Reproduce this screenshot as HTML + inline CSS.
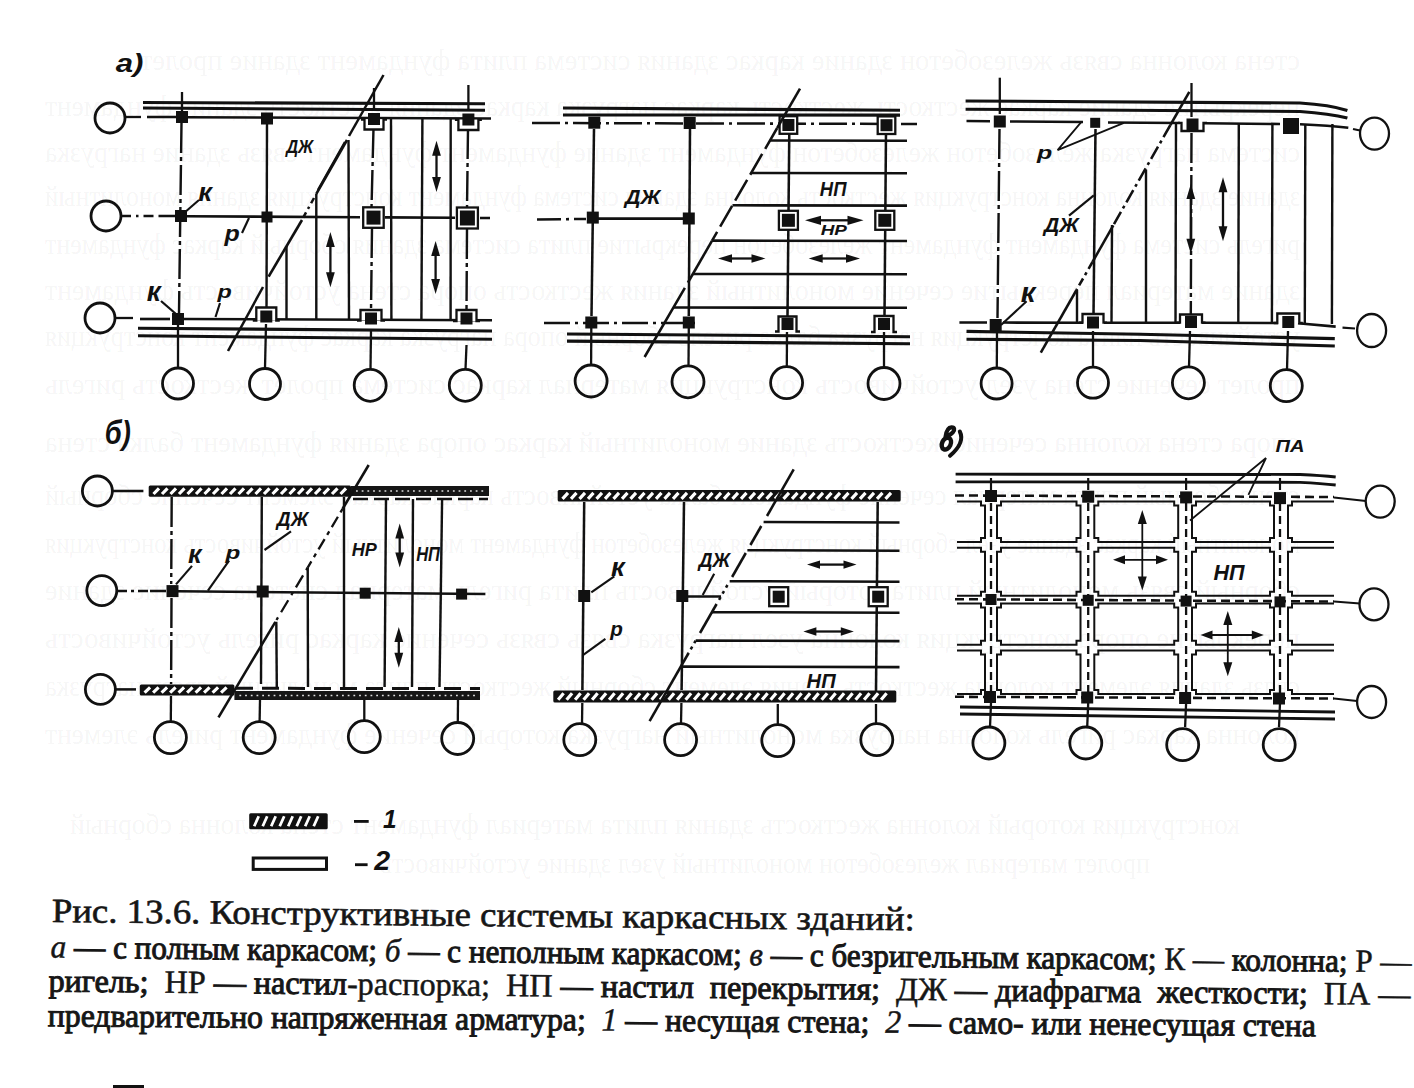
<!DOCTYPE html>
<html><head><meta charset="utf-8"><style>
html,body{margin:0;padding:0;background:#fff;}
body{width:1414px;height:1088px;overflow:hidden;position:relative;}
svg{position:absolute;left:0;top:0;}
.cs{font-family:"Liberation Serif",serif;fill:#161616;stroke:#161616;stroke-width:0.5px;white-space:pre;}
.it{font-style:italic;}
.bd{stroke-width:1.0px;}
.lb{font-family:"Liberation Sans",sans-serif;font-weight:bold;font-style:italic;fill:#111;stroke:none;}
.cap{position:absolute;font-family:"Liberation Serif",serif;color:#1a1a1a;white-space:nowrap;transform-origin:0 0;}
.l1{left:50px;top:0;font-size:34px;}
.j{text-align:justify;text-align-last:justify;white-space:normal;}
b{font-weight:bold;}
i{font-style:italic;}
</style></head><body>
<svg width="1414" height="1088" viewBox="0 0 1414 1088" stroke="#111" fill="none">
<g fill="#000" fill-opacity="0.055" stroke="none" font-family="Liberation Serif" font-size="30">
<text x="-1300" y="70" transform="scale(-1,1)" textLength="1160" lengthAdjust="spacingAndGlyphs">стена колонна связь железобетон здание каркас здания система плита фундамент здание пролет</text>
<text x="-1300" y="116" transform="scale(-1,1)" textLength="1255" lengthAdjust="spacingAndGlyphs">перекрытие здание каркас жесткость жесткость каркас нагрузка каркас здания жесткость здание фундамент</text>
<text x="-1300" y="162" transform="scale(-1,1)" textLength="1255" lengthAdjust="spacingAndGlyphs">система нагрузка железобетон железобетон фундамент здание фундамент фундамент связь здание нагрузка</text>
<text x="-1300" y="206" transform="scale(-1,1)" textLength="1255" lengthAdjust="spacingAndGlyphs">здание здания колонна конструкция жесткость колонна здания система фундамент конструкция здания монолитный</text>
<text x="-1300" y="254" transform="scale(-1,1)" textLength="1255" lengthAdjust="spacingAndGlyphs">ригель система фундамент фундамент железобетон перекрытие плита система здания сборный каркас фундамент</text>
<text x="-1300" y="300" transform="scale(-1,1)" textLength="1255" lengthAdjust="spacingAndGlyphs">здание материал перекрытие сечение монолитный здания жесткость опора стена устойчивость фундамент</text>
<text x="-1300" y="346" transform="scale(-1,1)" textLength="1255" lengthAdjust="spacingAndGlyphs">устойчивость плита конструкция нагрузка балка ригель сборный опора нагрузка каркас фундамент конструкция</text>
<text x="-1300" y="394" transform="scale(-1,1)" textLength="1255" lengthAdjust="spacingAndGlyphs">пролет сечение стена узел устойчивость конструкция материал каркас система пролет жесткость ригель</text>
<text x="-1300" y="452" transform="scale(-1,1)" textLength="1255" lengthAdjust="spacingAndGlyphs">опора стена колонна сечение жесткость здание монолитный каркас опора здания фундамент балка стена</text>
<text x="-1300" y="505" transform="scale(-1,1)" textLength="1255" lengthAdjust="spacingAndGlyphs">стена сборный плита материал сечение фундамент балка устойчивость каркас каркас элемент сечение сборный</text>
<text x="-1300" y="553" transform="scale(-1,1)" textLength="1255" lengthAdjust="spacingAndGlyphs">монолитный каркас здание узел сборный конструкция железобетон фундамент монолитный устойчивость конструкция</text>
<text x="-1300" y="600" transform="scale(-1,1)" textLength="1255" lengthAdjust="spacingAndGlyphs">сборный связь монолитный плита который устойчивость плита ригель материал система сечение здание</text>
<text x="-1300" y="648" transform="scale(-1,1)" textLength="1255" lengthAdjust="spacingAndGlyphs">перекрытие опора конструкция колонна узел нагрузка связь связь сечение каркас ригель устойчивость</text>
<text x="-1300" y="696" transform="scale(-1,1)" textLength="1255" lengthAdjust="spacingAndGlyphs">связь здания элемент колонна жесткость здания элемент сборный жесткость плита монолитный связь нагрузка</text>
<text x="-1300" y="744" transform="scale(-1,1)" textLength="1255" lengthAdjust="spacingAndGlyphs">колонна каркас ригель колонна нагрузка монолитный нагрузка который сечение фундамент ригель элемент</text>
<text x="-1240" y="834" transform="scale(-1,1)" textLength="1170" lengthAdjust="spacingAndGlyphs">конструкция который колонна жесткость здания плита материал фундамент стена колонна сборный</text>
<text x="-1150" y="873" transform="scale(-1,1)" textLength="770" lengthAdjust="spacingAndGlyphs">пролет материал железобетон монолитный узел здание устойчивость</text>
</g>
<text class="lb" font-size="26.06" transform="translate(116 52.5) scale(1.196 1)" x="-0.26" y="19.03">a)</text>
<circle cx="110.0" cy="118.0" r="15" stroke-width="2.8" fill="none"/>
<circle cx="106.0" cy="216.0" r="15" stroke-width="2.8" fill="none"/>
<circle cx="100.0" cy="318.0" r="15" stroke-width="2.8" fill="none"/>
<line x1="125.0" y1="117.0" x2="141.0" y2="117.0" stroke-width="2.3" stroke-linecap="butt"/>
<line x1="147.0" y1="117.0" x2="176.0" y2="117.0" stroke-width="2.53" stroke-linecap="butt"/>
<line x1="121.0" y1="216.0" x2="160.0" y2="216.0" stroke-width="2.3" stroke-dasharray="10 5 2.5 5" stroke-linecap="butt"/>
<line x1="160.0" y1="216.0" x2="176.0" y2="216.0" stroke-width="2.53" stroke-linecap="butt"/>
<line x1="115.0" y1="318.0" x2="133.0" y2="318.0" stroke-width="2.3" stroke-linecap="butt"/>
<line x1="140.0" y1="319.0" x2="170.0" y2="319.0" stroke-width="2.64" stroke-linecap="butt"/>
<line x1="143.0" y1="102.5" x2="485.0" y2="103.8" stroke-width="3.1" stroke-linecap="butt"/>
<line x1="143.0" y1="108.0" x2="485.0" y2="110.3" stroke-width="3.1" stroke-linecap="butt"/>
<line x1="186.0" y1="117.2" x2="491.0" y2="118.5" stroke-width="2.64" stroke-linecap="butt"/>
<line x1="186.0" y1="216.3" x2="360.0" y2="217.2" stroke-width="2.64" stroke-linecap="butt"/>
<line x1="385.0" y1="217.4" x2="455.0" y2="217.8" stroke-width="2.64" stroke-linecap="butt"/>
<line x1="480.0" y1="218.0" x2="490.0" y2="218.0" stroke-width="2.53" stroke-linecap="butt"/>
<line x1="184.0" y1="319.0" x2="492.0" y2="320.2" stroke-width="2.64" stroke-linecap="butt"/>
<line x1="138.0" y1="328.2" x2="492.0" y2="331.0" stroke-width="3.1" stroke-linecap="butt"/>
<line x1="138.0" y1="335.8" x2="492.0" y2="339.3" stroke-width="3.1" stroke-linecap="butt"/>
<line x1="182.0" y1="92.0" x2="182.0" y2="117.0" stroke-width="2.3" stroke-linecap="butt"/>
<line x1="181.5" y1="123.0" x2="179.0" y2="313.0" stroke-width="2.42" stroke-dasharray="30 4 4 4" stroke-linecap="butt"/>
<line x1="178.0" y1="325.0" x2="178.0" y2="368.0" stroke-width="2.3" stroke-linecap="butt"/>
<line x1="267.0" y1="124.0" x2="266.5" y2="310.0" stroke-width="2.42" stroke-linecap="butt"/>
<line x1="266.0" y1="324.0" x2="265.0" y2="368.0" stroke-width="2.3" stroke-linecap="butt"/>
<line x1="374.0" y1="88.0" x2="374.0" y2="110.0" stroke-width="2.3" stroke-linecap="butt"/>
<line x1="373.5" y1="128.0" x2="371.5" y2="208.0" stroke-width="2.42" stroke-dasharray="30 4 4 4" stroke-linecap="butt"/>
<line x1="372.0" y1="228.0" x2="371.0" y2="311.0" stroke-width="2.42" stroke-dasharray="30 4 4 4" stroke-linecap="butt"/>
<line x1="371.0" y1="330.0" x2="370.5" y2="369.0" stroke-width="2.3" stroke-linecap="butt"/>
<line x1="468.4" y1="85.0" x2="468.4" y2="110.0" stroke-width="2.3" stroke-linecap="butt"/>
<line x1="468.0" y1="129.0" x2="467.0" y2="208.0" stroke-width="2.42" stroke-dasharray="30 4 4 4" stroke-linecap="butt"/>
<line x1="467.0" y1="229.0" x2="466.5" y2="311.0" stroke-width="2.42" stroke-dasharray="30 4 4 4" stroke-linecap="butt"/>
<line x1="466.5" y1="345.0" x2="465.5" y2="369.0" stroke-width="2.3" stroke-linecap="butt"/>
<circle cx="178.0" cy="383.5" r="15.5" stroke-width="2.8" fill="none"/>
<circle cx="265.0" cy="384.0" r="15.5" stroke-width="2.8" fill="none"/>
<circle cx="370.2" cy="385.3" r="16" stroke-width="2.8" fill="none"/>
<circle cx="465.3" cy="385.3" r="16" stroke-width="2.8" fill="none"/>
<rect x="176.0" y="111.0" width="12" height="12" fill="#111" stroke="none"/>
<rect x="261.0" y="112.5" width="12" height="12" fill="#111" stroke="none"/>
<rect x="364.5" y="119.5" width="19.0" height="10.0" fill="#fff" stroke="none"/>
<polyline points="361.0,119.5 364.5,119.5 364.5,129.5 383.5,129.5 383.5,119.5 387.0,119.5" stroke-width="2.3" fill="none"/>
<rect x="368.0" y="113.0" width="12" height="12" fill="#111" stroke="none"/>
<rect x="458.4" y="119.8" width="20.0" height="10.2" fill="#fff" stroke="none"/>
<polyline points="454.9,119.8 458.4,119.8 458.4,130.0 478.4,130.0 478.4,119.8 481.9,119.8" stroke-width="2.3" fill="none"/>
<rect x="462.4" y="113.5" width="12" height="12" fill="#111" stroke="none"/>
<rect x="175.0" y="210.0" width="12" height="12" fill="#111" stroke="none"/>
<rect x="261.5" y="211.5" width="11" height="11" fill="#111" stroke="none"/>
<rect x="363.2" y="207.3" width="20.5" height="20.5" fill="#fff" stroke-width="2.3"/>
<rect x="366.5" y="210.6" width="14" height="14" fill="#111" stroke="none"/>
<rect x="456.9" y="207.5" width="21" height="21" fill="#fff" stroke-width="2.3"/>
<rect x="459.9" y="210.5" width="15" height="15" fill="#111" stroke="none"/>
<rect x="172.0" y="313.0" width="12" height="12" fill="#111" stroke="none"/>
<rect x="256.3" y="307.5" width="20.0" height="13.0" fill="#fff" stroke="none"/>
<polyline points="252.8,320.5 256.3,320.5 256.3,307.5 276.3,307.5 276.3,320.5 279.8,320.5" stroke-width="2.3" fill="none"/>
<rect x="260.3" y="310.5" width="12" height="12" fill="#111" stroke="none"/>
<rect x="360.5" y="310.0" width="21.0" height="10.5" fill="#fff" stroke="none"/>
<polyline points="357.0,320.5 360.5,320.5 360.5,310.0 381.5,310.0 381.5,320.5 385.0,320.5" stroke-width="2.3" fill="none"/>
<rect x="365.0" y="312.5" width="12" height="12" fill="#111" stroke="none"/>
<rect x="456.5" y="310.0" width="20.0" height="11.0" fill="#fff" stroke="none"/>
<polyline points="453.0,321.0 456.5,321.0 456.5,310.0 476.5,310.0 476.5,321.0 480.0,321.0" stroke-width="2.3" fill="none"/>
<rect x="460.5" y="312.5" width="12" height="12" fill="#111" stroke="none"/>
<line x1="383.5" y1="75.0" x2="349.0" y2="136.0" stroke-width="2.53" stroke-linecap="butt"/>
<line x1="345.0" y1="142.0" x2="318.0" y2="190.0" stroke-width="2.53" stroke-dasharray="none" stroke-linecap="butt"/>
<line x1="347.0" y1="140.0" x2="316.3" y2="193.8" stroke-width="2.64" stroke-linecap="butt"/>
<line x1="314.0" y1="198.0" x2="303.0" y2="218.0" stroke-width="2.53" stroke-dasharray="6 4 2.5 4" stroke-linecap="butt"/>
<line x1="302.0" y1="220.0" x2="268.6" y2="276.6" stroke-width="2.64" stroke-linecap="butt"/>
<line x1="263.0" y1="287.0" x2="228.0" y2="351.0" stroke-width="2.53" stroke-linecap="butt"/>
<line x1="348.5" y1="140.0" x2="349.0" y2="320.0" stroke-width="2.42" stroke-linecap="butt"/>
<line x1="316.3" y1="193.8" x2="316.3" y2="320.0" stroke-width="2.42" stroke-linecap="butt"/>
<line x1="286.5" y1="246.0" x2="286.5" y2="320.0" stroke-width="2.42" stroke-linecap="butt"/>
<line x1="391.0" y1="119.0" x2="391.4" y2="320.0" stroke-width="2.42" stroke-linecap="butt"/>
<line x1="422.4" y1="119.0" x2="421.4" y2="320.0" stroke-width="2.42" stroke-linecap="butt"/>
<line x1="450.7" y1="119.0" x2="450.6" y2="320.0" stroke-width="2.42" stroke-linecap="butt"/>
<line x1="330.4" y1="245.0" x2="330.4" y2="274.2" stroke-width="2.3" stroke-linecap="butt"/>
<path d="M330.4,232 L326.0,247 L334.79999999999995,247 Z" fill="#111" stroke="none"/>
<path d="M330.4,287.2 L326.0,272.2 L334.79999999999995,272.2 Z" fill="#111" stroke="none"/>
<line x1="436.5" y1="153.7" x2="436.5" y2="179.0" stroke-width="2.3" stroke-linecap="butt"/>
<path d="M436.5,140.7 L432.1,155.7 L440.9,155.7 Z" fill="#111" stroke="none"/>
<path d="M436.5,192 L432.1,177 L440.9,177 Z" fill="#111" stroke="none"/>
<line x1="435.6" y1="254.0" x2="435.6" y2="281.0" stroke-width="2.3" stroke-linecap="butt"/>
<path d="M435.6,241 L431.20000000000005,256 L440.0,256 Z" fill="#111" stroke="none"/>
<path d="M435.6,294 L431.20000000000005,279 L440.0,279 Z" fill="#111" stroke="none"/>
<text class="lb" font-size="17.98" transform="translate(285 141) scale(0.917 1)" x="1.26" y="12.40">ДЖ</text>
<text class="lb" font-size="26.42" transform="translate(198.7 187) scale(1.027 1)" x="-0.53" y="14.00">к</text>
<line x1="184.0" y1="213.0" x2="199.0" y2="200.0" stroke-width="2.16" stroke-linecap="butt"/>
<text class="lb" font-size="22.67" transform="translate(224 229) scale(1.103 1)" x="0.45" y="12.24">р</text>
<line x1="242.0" y1="233.0" x2="249.0" y2="218.0" stroke-width="2.16" stroke-linecap="butt"/>
<text class="lb" font-size="27.74" transform="translate(147.4 286) scale(0.998 1)" x="-0.55" y="14.70">к</text>
<line x1="161.0" y1="301.0" x2="176.0" y2="314.0" stroke-width="2.3" stroke-linecap="butt"/>
<text class="lb" font-size="18.67" transform="translate(217 287.5) scale(1.250 1)" x="0.37" y="10.08">р</text>
<line x1="220.0" y1="303.0" x2="215.5" y2="317.0" stroke-width="2.16" stroke-linecap="butt"/>
<line x1="563.0" y1="108.0" x2="900.0" y2="110.3" stroke-width="3.1" stroke-linecap="butt"/>
<line x1="563.0" y1="115.0" x2="900.0" y2="115.1" stroke-width="3.1" stroke-linecap="butt"/>
<line x1="532.0" y1="123.0" x2="917.0" y2="124.0" stroke-width="2.53" stroke-dasharray="28 5 3 5" stroke-linecap="butt"/>
<line x1="537.0" y1="219.4" x2="586.0" y2="219.0" stroke-width="2.53" stroke-dasharray="24 5 3 5" stroke-linecap="butt"/>
<line x1="598.0" y1="218.6" x2="683.0" y2="218.6" stroke-width="2.64" stroke-linecap="butt"/>
<line x1="544.0" y1="323.0" x2="700.0" y2="323.0" stroke-width="2.53" stroke-dasharray="26 5 3 5" stroke-linecap="butt"/>
<line x1="567.0" y1="334.0" x2="910.0" y2="336.7" stroke-width="3.1" stroke-linecap="butt"/>
<line x1="567.0" y1="341.1" x2="910.0" y2="343.8" stroke-width="3.1" stroke-linecap="butt"/>
<line x1="594.0" y1="129.0" x2="591.5" y2="316.0" stroke-width="2.53" stroke-linecap="butt"/>
<line x1="591.3" y1="328.0" x2="591.1" y2="365.0" stroke-width="2.3" stroke-linecap="butt"/>
<line x1="690.0" y1="129.0" x2="688.8" y2="316.0" stroke-width="2.53" stroke-linecap="butt"/>
<line x1="688.8" y1="328.0" x2="688.5" y2="366.0" stroke-width="2.3" stroke-linecap="butt"/>
<line x1="789.3" y1="131.0" x2="787.5" y2="316.0" stroke-width="2.53" stroke-linecap="butt"/>
<line x1="787.0" y1="332.0" x2="786.8" y2="367.0" stroke-width="2.3" stroke-linecap="butt"/>
<line x1="886.0" y1="131.0" x2="884.5" y2="316.0" stroke-width="2.53" stroke-linecap="butt"/>
<line x1="884.0" y1="332.0" x2="884.0" y2="367.0" stroke-width="2.3" stroke-linecap="butt"/>
<circle cx="591.1" cy="381.0" r="16" stroke-width="2.8" fill="none"/>
<circle cx="688.0" cy="381.8" r="16" stroke-width="2.8" fill="none"/>
<circle cx="786.6" cy="382.7" r="16" stroke-width="2.8" fill="none"/>
<circle cx="884.0" cy="383.5" r="16" stroke-width="2.8" fill="none"/>
<rect x="588.3" y="116.7" width="12" height="12" fill="#111" stroke="none"/>
<rect x="683.7" y="117.0" width="12" height="12" fill="#111" stroke="none"/>
<rect x="779.6" y="116.2" width="17.6" height="17.6" fill="#fff" stroke-width="2.3"/>
<rect x="782.4" y="119.0" width="12" height="12" fill="#111" stroke="none"/>
<rect x="877.7" y="116.4" width="17.6" height="17.6" fill="#fff" stroke-width="2.3"/>
<rect x="880.5" y="119.2" width="12" height="12" fill="#111" stroke="none"/>
<rect x="586.8" y="211.6" width="12" height="12" fill="#111" stroke="none"/>
<rect x="682.8" y="212.5" width="12" height="12" fill="#111" stroke="none"/>
<rect x="778.9" y="210.8" width="19" height="19" fill="#fff" stroke-width="2.3"/>
<rect x="781.9" y="213.8" width="13" height="13" fill="#111" stroke="none"/>
<rect x="875.3" y="210.8" width="19" height="19" fill="#fff" stroke-width="2.3"/>
<rect x="878.3" y="213.8" width="13" height="13" fill="#111" stroke="none"/>
<rect x="585.3" y="316.5" width="12" height="12" fill="#111" stroke="none"/>
<rect x="682.8" y="316.5" width="12" height="12" fill="#111" stroke="none"/>
<rect x="778.5" y="316.5" width="18.0" height="15.0" fill="#fff" stroke="none"/>
<polyline points="775.0,331.5 778.5,331.5 778.5,316.5 796.5,316.5 796.5,331.5 800.0,331.5" stroke-width="2.3" fill="none"/>
<rect x="781.5" y="318.0" width="12" height="12" fill="#111" stroke="none"/>
<rect x="874.5" y="316.0" width="19.0" height="16.0" fill="#fff" stroke="none"/>
<polyline points="871.0,332.0 874.5,332.0 874.5,316.0 893.5,316.0 893.5,332.0 897.0,332.0" stroke-width="2.3" fill="none"/>
<rect x="878.0" y="318.0" width="12" height="12" fill="#111" stroke="none"/>
<line x1="770.1" y1="140.4" x2="907.0" y2="140.7" stroke-width="2.55" stroke-linecap="butt"/>
<line x1="751.2" y1="173.0" x2="907.0" y2="173.3" stroke-width="2.55" stroke-linecap="butt"/>
<line x1="732.5" y1="205.3" x2="907.0" y2="205.6" stroke-width="2.55" stroke-linecap="butt"/>
<line x1="712.1" y1="240.6" x2="907.0" y2="240.9" stroke-width="2.55" stroke-linecap="butt"/>
<line x1="692.8" y1="274.0" x2="907.0" y2="274.3" stroke-width="2.55" stroke-linecap="butt"/>
<line x1="673.5" y1="307.5" x2="907.0" y2="307.8" stroke-width="2.55" stroke-linecap="butt"/>
<line x1="800.0" y1="88.6" x2="777.2" y2="128.0" stroke-width="2.55" stroke-linecap="butt"/>
<line x1="777.2" y1="128.0" x2="712.1" y2="240.6" stroke-width="2.55" stroke-dasharray="24 6" stroke-linecap="butt"/>
<line x1="712.1" y1="240.6" x2="689.4" y2="280.0" stroke-width="2.55" stroke-linecap="butt"/>
<line x1="689.4" y1="280.0" x2="644.6" y2="357.0" stroke-width="2.55" stroke-dasharray="3 6 120" stroke-linecap="butt"/>
<line x1="819.0" y1="220.3" x2="849.5" y2="220.3" stroke-width="2.3" stroke-linecap="butt"/>
<path d="M805,220.3 L821,215.70000000000002 L821,224.9 Z" fill="#111" stroke="none"/>
<path d="M863.5,220.3 L847.5,215.70000000000002 L847.5,224.9 Z" fill="#111" stroke="none"/>
<line x1="730.0" y1="258.5" x2="753.5" y2="258.5" stroke-width="2.3" stroke-linecap="butt"/>
<path d="M718,258.5 L732,254.3 L732,262.7 Z" fill="#111" stroke="none"/>
<path d="M765.5,258.5 L751.5,254.3 L751.5,262.7 Z" fill="#111" stroke="none"/>
<line x1="820.7" y1="258.5" x2="848.0" y2="258.5" stroke-width="2.3" stroke-linecap="butt"/>
<path d="M808.7,258.5 L822.7,254.3 L822.7,262.7 Z" fill="#111" stroke="none"/>
<path d="M860,258.5 L846,254.3 L846,262.7 Z" fill="#111" stroke="none"/>
<text class="lb" font-size="20.22" transform="translate(623.4 190) scale(1.068 1)" x="1.42" y="13.96">ДЖ</text>
<text class="lb" font-size="20.43" transform="translate(820.2 182.3) scale(0.904 1)" x="-0.41" y="14.10">НП</text>
<text class="lb" font-size="14.06" transform="translate(821 225.6) scale(1.340 1)" x="-0.28" y="9.70">НР</text>
<path d="M965.6,101 L1300,103 Q1330,105 1347.4,110.4" stroke-width="3.1" fill="none"/>
<path d="M965.6,109.2 L1300,111.5 Q1330,113.5 1347.4,118.1" stroke-width="3.1" fill="none"/>
<line x1="966.5" y1="121.0" x2="990.0" y2="121.2" stroke-width="2.53" stroke-linecap="butt"/>
<line x1="1010.0" y1="121.5" x2="1083.0" y2="122.0" stroke-width="2.53" stroke-linecap="butt"/>
<path d="M1108,122.5 L1180,123 M1204,123.3 L1280,124 M1300,124.3 Q1330,125.5 1348.3,127.8" stroke-width="2.6" fill="none"/>
<line x1="1353.0" y1="129.0" x2="1360.0" y2="130.5" stroke-width="2.16" stroke-linecap="butt"/>
<ellipse cx="1374.5" cy="133.6" rx="14.5" ry="16" stroke-width="2.3" fill="none"/>
<line x1="959.4" y1="322.5" x2="987.0" y2="322.5" stroke-width="2.53" stroke-linecap="butt"/>
<line x1="1003.0" y1="322.6" x2="1083.0" y2="322.7" stroke-width="2.53" stroke-linecap="butt"/>
<path d="M1104,322.7 L1180,322.7 M1202,322.7 L1278,323 M1298,323.3 L1335.7,326.6" stroke-width="2.6" fill="none"/>
<line x1="1342.5" y1="327.6" x2="1355.0" y2="328.5" stroke-width="2.16" stroke-linecap="butt"/>
<ellipse cx="1371.6" cy="330.5" rx="14.5" ry="16.5" stroke-width="2.3" fill="none"/>
<path d="M966.5,331.4 L1140,334.3 L1334.8,338.6" stroke-width="3.1" fill="none"/>
<path d="M966.5,339.3 L1140,340.5 L1334.8,346" stroke-width="3.1" fill="none"/>
<line x1="999.8" y1="77.7" x2="999.8" y2="114.0" stroke-width="2.3" stroke-linecap="butt"/>
<line x1="999.5" y1="129.0" x2="997.5" y2="318.0" stroke-width="2.42" stroke-dasharray="30 4 4 4" stroke-linecap="butt"/>
<line x1="997.0" y1="333.0" x2="996.8" y2="368.0" stroke-width="2.3" stroke-linecap="butt"/>
<line x1="1095.5" y1="129.0" x2="1093.5" y2="315.0" stroke-width="2.53" stroke-linecap="butt"/>
<line x1="1093.0" y1="331.0" x2="1093.0" y2="367.0" stroke-width="2.3" stroke-linecap="butt"/>
<line x1="1191.5" y1="83.0" x2="1191.5" y2="117.0" stroke-width="2.3" stroke-linecap="butt"/>
<line x1="1191.5" y1="133.0" x2="1190.8" y2="316.0" stroke-width="2.42" stroke-dasharray="30 4 4 4" stroke-linecap="butt"/>
<line x1="1190.0" y1="331.0" x2="1189.0" y2="367.0" stroke-width="2.3" stroke-linecap="butt"/>
<line x1="1288.0" y1="331.0" x2="1287.0" y2="370.0" stroke-width="2.3" stroke-linecap="butt"/>
<circle cx="996.6" cy="383.5" r="15.5" stroke-width="2.8" fill="none"/>
<circle cx="1093.0" cy="382.7" r="15.5" stroke-width="2.8" fill="none"/>
<circle cx="1188.4" cy="382.8" r="16" stroke-width="2.8" fill="none"/>
<circle cx="1286.3" cy="385.7" r="16" stroke-width="2.8" fill="none"/>
<rect x="993.8" y="115.5" width="12" height="12" fill="#111" stroke="none"/>
<rect x="1090.2" y="117.8" width="10" height="10" fill="#111" stroke="none"/>
<rect x="1181.5" y="122.8" width="22.0" height="8.2" fill="#fff" stroke="none"/>
<polyline points="1178.0,122.8 1181.5,122.8 1181.5,131.0 1203.5,131.0 1203.5,122.8 1207.0,122.8" stroke-width="2.3" fill="none"/>
<rect x="1186.5" y="118.5" width="12" height="12" fill="#111" stroke="none"/>
<rect x="1283.0" y="118.0" width="16" height="16" fill="#111" stroke="none"/>
<rect x="989.7" y="319.0" width="12" height="12" fill="#111" stroke="none"/>
<rect x="1082.5" y="314.0" width="21.0" height="8.7" fill="#fff" stroke="none"/>
<polyline points="1079.0,322.7 1082.5,322.7 1082.5,314.0 1103.5,314.0 1103.5,322.7 1107.0,322.7" stroke-width="2.3" fill="none"/>
<rect x="1087.0" y="316.5" width="12" height="12" fill="#111" stroke="none"/>
<rect x="1180.0" y="314.5" width="22.0" height="8.2" fill="#fff" stroke="none"/>
<polyline points="1176.5,322.7 1180.0,322.7 1180.0,314.5 1202.0,314.5 1202.0,322.7 1205.5,322.7" stroke-width="2.3" fill="none"/>
<rect x="1185.0" y="316.0" width="12" height="12" fill="#111" stroke="none"/>
<rect x="1277.3" y="313.5" width="22.0" height="9.5" fill="#fff" stroke="none"/>
<polyline points="1273.8,323.0 1277.3,323.0 1277.3,313.5 1299.3,313.5 1299.3,323.0 1302.8,323.0" stroke-width="2.3" fill="none"/>
<rect x="1282.3" y="316.0" width="12" height="12" fill="#111" stroke="none"/>
<line x1="1189.3" y1="91.8" x2="1170.4" y2="125.0" stroke-width="2.55" stroke-linecap="butt"/>
<line x1="1170.4" y1="125.0" x2="1113.3" y2="225.3" stroke-width="2.55" stroke-dasharray="14 4 3 4" stroke-linecap="butt"/>
<line x1="1113.3" y1="225.3" x2="1092.5" y2="262.0" stroke-width="2.55" stroke-linecap="butt"/>
<line x1="1092.5" y1="262.0" x2="1076.5" y2="290.0" stroke-width="2.55" stroke-dasharray="8 4 3 4" stroke-linecap="butt"/>
<line x1="1076.5" y1="290.0" x2="1040.8" y2="352.6" stroke-width="2.55" stroke-linecap="butt"/>
<line x1="1112.0" y1="225.0" x2="1111.5" y2="322.5" stroke-width="2.42" stroke-linecap="butt"/>
<line x1="1077.0" y1="290.0" x2="1077.0" y2="322.5" stroke-width="2.42" stroke-linecap="butt"/>
<line x1="1146.0" y1="169.6" x2="1146.0" y2="322.6" stroke-width="2.42" stroke-linecap="butt"/>
<line x1="1176.0" y1="122.0" x2="1175.5" y2="322.6" stroke-width="2.42" stroke-linecap="butt"/>
<line x1="1238.8" y1="124.0" x2="1238.3" y2="324.0" stroke-width="2.42" stroke-linecap="butt"/>
<line x1="1272.4" y1="124.0" x2="1271.9" y2="324.0" stroke-width="2.42" stroke-linecap="butt"/>
<line x1="1305.3" y1="124.0" x2="1304.8" y2="324.0" stroke-width="2.42" stroke-linecap="butt"/>
<line x1="1332.4" y1="124.0" x2="1331.9" y2="324.0" stroke-width="2.42" stroke-linecap="butt"/>
<polyline points="1081.4,121.9 1057.6,150.2 1123.9,122.8" stroke-width="1.8" fill="none"/>
<line x1="1190.8" y1="197.0" x2="1190.8" y2="240.8" stroke-width="2.3" stroke-linecap="butt"/>
<path d="M1190.8,184 L1186.3999999999999,199 L1195.2,199 Z" fill="#111" stroke="none"/>
<path d="M1190.8,253.8 L1186.3999999999999,238.8 L1195.2,238.8 Z" fill="#111" stroke="none"/>
<line x1="1223.0" y1="190.2" x2="1223.0" y2="228.2" stroke-width="2.3" stroke-linecap="butt"/>
<path d="M1223,177.2 L1218.6,192.2 L1227.4,192.2 Z" fill="#111" stroke="none"/>
<path d="M1223,241.2 L1218.6,226.2 L1227.4,226.2 Z" fill="#111" stroke="none"/>
<text class="lb" font-size="18.80" transform="translate(1036.4 148.4) scale(1.330 1)" x="0.38" y="10.15">р</text>
<text class="lb" font-size="20.00" transform="translate(1042.5 218.2) scale(1.057 1)" x="1.40" y="13.80">ДЖ</text>
<line x1="1069.0" y1="215.6" x2="1093.8" y2="195.3" stroke-width="2.16" stroke-linecap="butt"/>
<text class="lb" font-size="28.30" transform="translate(1021.3 287.2) scale(1.026 1)" x="-0.57" y="15.00">к</text>
<line x1="1001.0" y1="325.0" x2="1026.6" y2="301.3" stroke-width="2.16" stroke-linecap="butt"/>
<text class="lb" font-size="32.63" transform="translate(106.2 420) scale(0.838 1)" x="-1.63" y="24.15">б)</text>
<circle cx="97.4" cy="491.0" r="15" stroke-width="2.8" fill="none"/>
<circle cx="101.8" cy="590.6" r="15" stroke-width="2.8" fill="none"/>
<circle cx="100.4" cy="689.4" r="15" stroke-width="2.8" fill="none"/>
<line x1="112.4" y1="491.0" x2="143.4" y2="491.0" stroke-width="2.53" stroke-linecap="butt"/>
<line x1="117.0" y1="591.0" x2="150.0" y2="591.0" stroke-width="2.53" stroke-dasharray="10 4 3 4" stroke-linecap="butt"/>
<line x1="150.0" y1="591.0" x2="166.0" y2="591.0" stroke-width="2.53" stroke-linecap="butt"/>
<line x1="115.5" y1="689.4" x2="136.0" y2="689.4" stroke-width="2.53" stroke-linecap="butt"/>
<rect x="148.7" y="485.5" width="202.3" height="11.3" fill="#111" stroke="none" rx="1.5"/>
<path d="M153.5,494.0L159.0,488.3M162.0,494.0L167.5,488.3M170.5,494.0L176.0,488.3M179.0,494.0L184.5,488.3M187.5,494.0L193.0,488.3M196.0,494.0L201.5,488.3M204.5,494.0L210.0,488.3M213.0,494.0L218.5,488.3M221.5,494.0L227.0,488.3M230.0,494.0L235.5,488.3M238.5,494.0L244.0,488.3M247.0,494.0L252.5,488.3M255.5,494.0L261.0,488.3M264.0,494.0L269.5,488.3M272.5,494.0L278.0,488.3M281.0,494.0L286.5,488.3M289.5,494.0L295.0,488.3M298.0,494.0L303.5,488.3M306.5,494.0L312.0,488.3M315.0,494.0L320.5,488.3M323.5,494.0L329.0,488.3M332.0,494.0L337.5,488.3M340.5,494.0L346.0,488.3" stroke="#fff" stroke-width="3.2" fill="none"/>
<rect x="351.0" y="486.0" width="138.0" height="10.0" fill="#161616" stroke="none"/>
<path d="M356.0,491.0h1.8M361.7,491.0h1.8M367.4,491.0h1.8M373.1,491.0h1.8M378.8,491.0h1.8M384.5,491.0h1.8M390.2,491.0h1.8M395.9,491.0h1.8M401.6,491.0h1.8M407.3,491.0h1.8M413.0,491.0h1.8M418.7,491.0h1.8M424.4,491.0h1.8M430.1,491.0h1.8M435.8,491.0h1.8M441.5,491.0h1.8M447.2,491.0h1.8M452.9,491.0h1.8M458.6,491.0h1.8M464.3,491.0h1.8M470.0,491.0h1.8M475.7,491.0h1.8M481.4,491.0h1.8" stroke="#ddd" stroke-width="1.6" fill="none"/>
<line x1="353.0" y1="499.0" x2="488.0" y2="499.0" stroke-width="2.6" stroke-dasharray="15 6" stroke-linecap="butt"/>
<rect x="139.8" y="684.6" width="94.6" height="10.8" fill="#111" stroke="none" rx="1.5"/>
<path d="M144.6,692.6L150.1,687.4M153.1,692.6L158.6,687.4M161.6,692.6L167.1,687.4M170.1,692.6L175.6,687.4M178.6,692.6L184.1,687.4M187.1,692.6L192.6,687.4M195.6,692.6L201.1,687.4M204.1,692.6L209.6,687.4M212.6,692.6L218.1,687.4M221.1,692.6L226.6,687.4" stroke="#fff" stroke-width="3.2" fill="none"/>
<rect x="234.4" y="691.0" width="245.6" height="9.0" fill="#161616" stroke="none"/>
<path d="M239.4,695.5h1.8M245.1,695.5h1.8M250.8,695.5h1.8M256.5,695.5h1.8M262.2,695.5h1.8M267.9,695.5h1.8M273.6,695.5h1.8M279.3,695.5h1.8M285.0,695.5h1.8M290.7,695.5h1.8M296.4,695.5h1.8M302.1,695.5h1.8M307.8,695.5h1.8M313.5,695.5h1.8M319.2,695.5h1.8M324.9,695.5h1.8M330.6,695.5h1.8M336.3,695.5h1.8M342.0,695.5h1.8M347.7,695.5h1.8M353.4,695.5h1.8M359.1,695.5h1.8M364.8,695.5h1.8M370.5,695.5h1.8M376.2,695.5h1.8M381.9,695.5h1.8M387.6,695.5h1.8M393.3,695.5h1.8M399.0,695.5h1.8M404.7,695.5h1.8M410.4,695.5h1.8M416.1,695.5h1.8M421.8,695.5h1.8M427.5,695.5h1.8M433.2,695.5h1.8M438.9,695.5h1.8M444.6,695.5h1.8M450.3,695.5h1.8M456.0,695.5h1.8M461.7,695.5h1.8M467.4,695.5h1.8M473.1,695.5h1.8" stroke="#ddd" stroke-width="1.6" fill="none"/>
<line x1="236.0" y1="688.3" x2="480.0" y2="688.6" stroke-width="3" stroke-dasharray="17 9" stroke-linecap="butt"/>
<line x1="178.0" y1="591.3" x2="485.4" y2="594.1" stroke-width="2.53" stroke-linecap="butt"/>
<line x1="171.7" y1="497.0" x2="171.2" y2="584.0" stroke-width="2.42" stroke-dasharray="30 4 4 4" stroke-linecap="butt"/>
<line x1="171.5" y1="598.0" x2="171.1" y2="684.0" stroke-width="2.42" stroke-dasharray="30 4 4 4" stroke-linecap="butt"/>
<line x1="171.0" y1="696.0" x2="170.8" y2="722.0" stroke-width="2.3" stroke-linecap="butt"/>
<line x1="261.8" y1="497.0" x2="261.0" y2="684.0" stroke-width="2.42" stroke-linecap="butt"/>
<line x1="260.0" y1="700.0" x2="259.6" y2="722.0" stroke-width="2.3" stroke-linecap="butt"/>
<line x1="364.3" y1="700.0" x2="364.3" y2="721.0" stroke-width="2.3" stroke-linecap="butt"/>
<line x1="458.0" y1="700.0" x2="457.8" y2="722.0" stroke-width="2.3" stroke-linecap="butt"/>
<circle cx="170.4" cy="737.6" r="16" stroke-width="2.8" fill="none"/>
<circle cx="259.2" cy="737.6" r="16" stroke-width="2.8" fill="none"/>
<circle cx="364.3" cy="736.7" r="16" stroke-width="2.8" fill="none"/>
<circle cx="457.7" cy="738.5" r="16" stroke-width="2.8" fill="none"/>
<rect x="166.5" y="585.1" width="12" height="12" fill="#111" stroke="none"/>
<rect x="256.7" y="585.5" width="12" height="12" fill="#111" stroke="none"/>
<rect x="359.7" y="587.7" width="11" height="11" fill="#111" stroke="none"/>
<rect x="456.1" y="588.6" width="11" height="11" fill="#111" stroke="none"/>
<line x1="368.7" y1="465.0" x2="342.5" y2="509.0" stroke-width="2.55" stroke-linecap="butt"/>
<line x1="342.5" y1="509.0" x2="307.7" y2="567.6" stroke-width="2.3" stroke-dasharray="4 5 12 5" stroke-linecap="butt"/>
<line x1="307.7" y1="567.6" x2="275.4" y2="621.8" stroke-width="2.3" stroke-dasharray="3 6 14 6" stroke-linecap="butt"/>
<line x1="275.4" y1="621.8" x2="218.5" y2="717.3" stroke-width="2.55" stroke-linecap="butt"/>
<line x1="344.0" y1="497.0" x2="344.0" y2="687.0" stroke-width="2.42" stroke-linecap="butt"/>
<line x1="307.7" y1="567.6" x2="308.0" y2="687.0" stroke-width="2.42" stroke-linecap="butt"/>
<line x1="276.3" y1="621.8" x2="276.8" y2="687.0" stroke-width="2.42" stroke-linecap="butt"/>
<line x1="386.0" y1="499.0" x2="384.6" y2="687.0" stroke-width="2.42" stroke-linecap="butt"/>
<line x1="413.0" y1="499.0" x2="412.0" y2="687.0" stroke-width="2.42" stroke-linecap="butt"/>
<line x1="442.1" y1="499.0" x2="439.5" y2="687.0" stroke-width="2.42" stroke-linecap="butt"/>
<line x1="399.7" y1="536.4" x2="399.7" y2="554.6" stroke-width="2.3" stroke-linecap="butt"/>
<path d="M399.7,523.4 L395.3,538.4 L404.09999999999997,538.4 Z" fill="#111" stroke="none"/>
<path d="M399.7,567.6 L395.3,552.6 L404.09999999999997,552.6 Z" fill="#111" stroke="none"/>
<line x1="398.8" y1="640.0" x2="398.8" y2="654.8" stroke-width="2.3" stroke-linecap="butt"/>
<path d="M398.8,627 L394.40000000000003,642 L403.2,642 Z" fill="#111" stroke="none"/>
<path d="M398.8,667.8 L394.40000000000003,652.8 L403.2,652.8 Z" fill="#111" stroke="none"/>
<text class="lb" font-size="26.23" transform="translate(188.4 549.5) scale(1.019 1)" x="-0.52" y="13.90">к</text>
<line x1="176.0" y1="584.4" x2="192.0" y2="565.9" stroke-width="2.16" stroke-linecap="butt"/>
<text class="lb" font-size="18.00" transform="translate(225 549.5) scale(1.343 1)" x="0.36" y="9.72">р</text>
<line x1="207.9" y1="590.6" x2="229.1" y2="560.6" stroke-width="2.16" stroke-linecap="butt"/>
<text class="lb" font-size="19.44" transform="translate(275.5 512.4) scale(0.985 1)" x="1.36" y="13.41">ДЖ</text>
<line x1="264.5" y1="550.0" x2="291.0" y2="531.4" stroke-width="2.16" stroke-linecap="butt"/>
<text class="lb" font-size="17.83" transform="translate(352 543.7) scale(1.011 1)" x="-0.36" y="12.30">НР</text>
<text class="lb" font-size="19.57" transform="translate(416.5 547) scale(0.845 1)" x="-0.39" y="13.50">НП</text>
<rect x="557.7" y="490.0" width="343.0" height="11.6" fill="#111" stroke="none" rx="1.5"/>
<path d="M562.5,498.8L568.0,492.8M571.0,498.8L576.5,492.8M579.5,498.8L585.0,492.8M588.0,498.8L593.5,492.8M596.5,498.8L602.0,492.8M605.0,498.8L610.5,492.8M613.5,498.8L619.0,492.8M622.0,498.8L627.5,492.8M630.5,498.8L636.0,492.8M639.0,498.8L644.5,492.8M647.5,498.8L653.0,492.8M656.0,498.8L661.5,492.8M664.5,498.8L670.0,492.8M673.0,498.8L678.5,492.8M681.5,498.8L687.0,492.8M690.0,498.8L695.5,492.8M698.5,498.8L704.0,492.8M707.0,498.8L712.5,492.8M715.5,498.8L721.0,492.8M724.0,498.8L729.5,492.8M732.5,498.8L738.0,492.8M741.0,498.8L746.5,492.8M749.5,498.8L755.0,492.8M758.0,498.8L763.5,492.8M766.5,498.8L772.0,492.8M775.0,498.8L780.5,492.8M783.5,498.8L789.0,492.8M792.0,498.8L797.5,492.8M800.5,498.8L806.0,492.8M809.0,498.8L814.5,492.8M817.5,498.8L823.0,492.8M826.0,498.8L831.5,492.8M834.5,498.8L840.0,492.8M843.0,498.8L848.5,492.8M851.5,498.8L857.0,492.8M860.0,498.8L865.5,492.8M868.5,498.8L874.0,492.8M877.0,498.8L882.5,492.8M885.5,498.8L891.0,492.8" stroke="#fff" stroke-width="3.2" fill="none"/>
<rect x="553.3" y="690.4" width="343.0" height="12.2" fill="#111" stroke="none" rx="1.5"/>
<path d="M558.1,699.8L563.6,693.2M566.6,699.8L572.1,693.2M575.1,699.8L580.6,693.2M583.6,699.8L589.1,693.2M592.1,699.8L597.6,693.2M600.6,699.8L606.1,693.2M609.1,699.8L614.6,693.2M617.6,699.8L623.1,693.2M626.1,699.8L631.6,693.2M634.6,699.8L640.1,693.2M643.1,699.8L648.6,693.2M651.6,699.8L657.1,693.2M660.1,699.8L665.6,693.2M668.6,699.8L674.1,693.2M677.1,699.8L682.6,693.2M685.6,699.8L691.1,693.2M694.1,699.8L699.6,693.2M702.6,699.8L708.1,693.2M711.1,699.8L716.6,693.2M719.6,699.8L725.1,693.2M728.1,699.8L733.6,693.2M736.6,699.8L742.1,693.2M745.1,699.8L750.6,693.2M753.6,699.8L759.1,693.2M762.1,699.8L767.6,693.2M770.6,699.8L776.1,693.2M779.1,699.8L784.6,693.2M787.6,699.8L793.1,693.2M796.1,699.8L801.6,693.2M804.6,699.8L810.1,693.2M813.1,699.8L818.6,693.2M821.6,699.8L827.1,693.2M830.1,699.8L835.6,693.2M838.6,699.8L844.1,693.2M847.1,699.8L852.6,693.2M855.6,699.8L861.1,693.2M864.1,699.8L869.6,693.2M872.6,699.8L878.1,693.2M881.1,699.8L886.6,693.2" stroke="#fff" stroke-width="3.2" fill="none"/>
<line x1="584.2" y1="502.0" x2="582.4" y2="690.0" stroke-width="2.53" stroke-linecap="butt"/>
<line x1="582.3" y1="703.0" x2="582.0" y2="724.0" stroke-width="2.3" stroke-linecap="butt"/>
<line x1="684.0" y1="502.0" x2="681.6" y2="690.0" stroke-width="2.53" stroke-linecap="butt"/>
<line x1="681.4" y1="703.0" x2="681.0" y2="724.0" stroke-width="2.3" stroke-linecap="butt"/>
<line x1="877.7" y1="502.0" x2="876.0" y2="692.0" stroke-width="2.53" stroke-linecap="butt"/>
<line x1="876.0" y1="704.0" x2="876.0" y2="724.0" stroke-width="2.3" stroke-linecap="butt"/>
<line x1="777.8" y1="704.0" x2="777.8" y2="725.0" stroke-width="2.3" stroke-linecap="butt"/>
<circle cx="579.8" cy="739.7" r="16" stroke-width="2.8" fill="none"/>
<circle cx="680.6" cy="739.7" r="16" stroke-width="2.8" fill="none"/>
<circle cx="777.8" cy="740.6" r="16" stroke-width="2.8" fill="none"/>
<circle cx="876.8" cy="739.7" r="16" stroke-width="2.8" fill="none"/>
<rect x="578.2" y="590.0" width="12" height="12" fill="#111" stroke="none"/>
<rect x="676.3" y="590.0" width="12" height="12" fill="#111" stroke="none"/>
<rect x="769.2" y="587.2" width="19" height="19" fill="#fff" stroke-width="2.3"/>
<rect x="772.7" y="590.7" width="12" height="12" fill="#111" stroke="none"/>
<rect x="868.7" y="587.2" width="19" height="19" fill="#fff" stroke-width="2.3"/>
<rect x="872.2" y="590.7" width="12" height="12" fill="#111" stroke="none"/>
<line x1="763.6" y1="522.0" x2="899.5" y2="522.5" stroke-width="2.55" stroke-linecap="butt"/>
<line x1="747.4" y1="550.2" x2="899.5" y2="550.7" stroke-width="2.55" stroke-linecap="butt"/>
<line x1="729.7" y1="581.2" x2="899.5" y2="581.7" stroke-width="2.55" stroke-linecap="butt"/>
<line x1="711.9" y1="612.2" x2="899.5" y2="612.7" stroke-width="2.55" stroke-linecap="butt"/>
<line x1="695.7" y1="640.6" x2="899.5" y2="641.1" stroke-width="2.55" stroke-linecap="butt"/>
<line x1="680.8" y1="666.6" x2="899.5" y2="667.1" stroke-width="2.55" stroke-linecap="butt"/>
<line x1="688.0" y1="596.4" x2="721.0" y2="596.4" stroke-width="2.5" stroke-linecap="butt"/>
<line x1="793.7" y1="469.4" x2="767.0" y2="516.0" stroke-width="2.55" stroke-linecap="butt"/>
<line x1="761.3" y1="526.0" x2="750.4" y2="545.0" stroke-width="2.55" stroke-linecap="butt"/>
<line x1="745.8" y1="553.0" x2="732.1" y2="577.0" stroke-width="2.55" stroke-linecap="butt"/>
<line x1="727.5" y1="585.0" x2="717.8" y2="602.0" stroke-width="2.55" stroke-dasharray="3 4" stroke-linecap="butt"/>
<line x1="716.6" y1="604.0" x2="700.0" y2="633.0" stroke-width="2.55" stroke-linecap="butt"/>
<line x1="695.7" y1="640.6" x2="688.6" y2="653.0" stroke-width="2.55" stroke-dasharray="3 4" stroke-linecap="butt"/>
<line x1="688.6" y1="653.0" x2="649.6" y2="721.1" stroke-width="2.55" stroke-linecap="butt"/>
<line x1="818.0" y1="564.6" x2="845.5" y2="564.6" stroke-width="2.3" stroke-linecap="butt"/>
<path d="M807,564.6 L820,560.4 L820,568.8000000000001 Z" fill="#111" stroke="none"/>
<path d="M856.5,564.6 L843.5,560.4 L843.5,568.8000000000001 Z" fill="#111" stroke="none"/>
<line x1="814.4" y1="631.5" x2="842.8" y2="631.5" stroke-width="2.3" stroke-linecap="butt"/>
<path d="M803.4,631.5 L816.4,627.3 L816.4,635.7 Z" fill="#111" stroke="none"/>
<path d="M853.8,631.5 L840.8,627.3 L840.8,635.7 Z" fill="#111" stroke="none"/>
<text class="lb" font-size="26.60" transform="translate(611.6 561.4) scale(1.019 1)" x="-0.53" y="14.10">к</text>
<line x1="591.3" y1="592.3" x2="614.3" y2="576.4" stroke-width="2.16" stroke-linecap="butt"/>
<text class="lb" font-size="20.90" transform="translate(697.4 552.5) scale(0.913 1)" x="1.46" y="14.42">ДЖ</text>
<line x1="702.7" y1="595.0" x2="714.2" y2="573.8" stroke-width="2.16" stroke-linecap="butt"/>
<text class="lb" font-size="20.00" transform="translate(609.8 624.8) scale(1.033 1)" x="0.40" y="10.80">р</text>
<line x1="583.3" y1="654.8" x2="605.4" y2="638.9" stroke-width="2.16" stroke-linecap="butt"/>
<text class="lb" font-size="20.43" transform="translate(807 673.4) scale(0.986 1)" x="-0.41" y="14.10">НП</text>
<g stroke="#111" fill="none" stroke-linecap="round"><ellipse cx="946.4" cy="443.6" rx="4.3" ry="6.2" transform="rotate(25 946.4 443.6)" stroke-width="4.4"/><path d="M945.5,437 C946.2,431.5 948,427.5 951.5,427.3 C954.6,427.2 955,430 952.8,432.4 C951.5,433.8 950,434.8 948.5,435.8" stroke-width="4.2"/><path d="M959.8,431.5 C962.5,437 962.5,445 950,455.8" stroke-width="4"/></g>
<path d="M955.6,474.2 L1300,474.5 Q1322,475.5 1335.7,477" stroke-width="2.8" fill="none"/>
<path d="M955.6,481.8 L1300,482.3 Q1322,483.5 1335.7,485" stroke-width="2.8" fill="none"/>
<path d="M960,707 L1335,712" stroke-width="2.8" fill="none"/>
<path d="M960,714 L1335,719" stroke-width="2.8" fill="none"/>
<line x1="955.0" y1="495.5" x2="1334.0" y2="497.0" stroke-width="2.53" stroke-dasharray="9 5" stroke-linecap="butt"/>
<line x1="955.0" y1="599.2" x2="1334.0" y2="601.5" stroke-width="2.53" stroke-dasharray="9 5" stroke-linecap="butt"/>
<line x1="955.0" y1="696.8" x2="1334.0" y2="698.5" stroke-width="2.53" stroke-dasharray="9 5" stroke-linecap="butt"/>
<line x1="1334.0" y1="497.5" x2="1366.0" y2="501.0" stroke-width="1.92" stroke-linecap="butt"/>
<line x1="1334.0" y1="601.5" x2="1360.0" y2="603.5" stroke-width="1.92" stroke-linecap="butt"/>
<line x1="1334.0" y1="698.5" x2="1357.0" y2="701.0" stroke-width="1.92" stroke-linecap="butt"/>
<ellipse cx="1380.2" cy="501.6" rx="14.5" ry="16" stroke-width="2.3" fill="none"/>
<ellipse cx="1374.0" cy="604.3" rx="14.5" ry="16" stroke-width="2.3" fill="none"/>
<ellipse cx="1371.6" cy="702.0" rx="14.5" ry="16" stroke-width="2.3" fill="none"/>
<path d="M1001,501.6 H1076.5 V505.6 H1080.5 V538 H1076.5 V542 H1001 V538 H997 V505.6 H1001 Z" stroke-width="2" fill="none"/>
<path d="M1001,547.8 H1076.5 V551.8 H1080.5 V591.8 H1076.5 V595.8 H1001 V591.8 H997 V551.8 H1001 Z" stroke-width="2" fill="none"/>
<path d="M1001,603.6 H1076.5 V607.6 H1080.5 V640.7 H1076.5 V644.7 H1001 V640.7 H997 V607.6 H1001 Z" stroke-width="2" fill="none"/>
<path d="M1001,650.5 H1076.5 V654.5 H1080.5 V690 H1076.5 V694 H1001 V690 H997 V654.5 H1001 Z" stroke-width="2" fill="none"/>
<path d="M1098.3,501.6 H1174.2 V505.6 H1178.2 V538 H1174.2 V542 H1098.3 V538 H1094.3 V505.6 H1098.3 Z" stroke-width="2" fill="none"/>
<path d="M1098.3,547.8 H1174.2 V551.8 H1178.2 V591.8 H1174.2 V595.8 H1098.3 V591.8 H1094.3 V551.8 H1098.3 Z" stroke-width="2" fill="none"/>
<path d="M1098.3,603.6 H1174.2 V607.6 H1178.2 V640.7 H1174.2 V644.7 H1098.3 V640.7 H1094.3 V607.6 H1098.3 Z" stroke-width="2" fill="none"/>
<path d="M1098.3,650.5 H1174.2 V654.5 H1178.2 V690 H1174.2 V694 H1098.3 V690 H1094.3 V654.5 H1098.3 Z" stroke-width="2" fill="none"/>
<path d="M1196,501.6 H1270 V505.6 H1274 V538 H1270 V542 H1196 V538 H1192 V505.6 H1196 Z" stroke-width="2" fill="none"/>
<path d="M1196,547.8 H1270 V551.8 H1274 V591.8 H1270 V595.8 H1196 V591.8 H1192 V551.8 H1196 Z" stroke-width="2" fill="none"/>
<path d="M1196,603.6 H1270 V607.6 H1274 V640.7 H1270 V644.7 H1196 V640.7 H1192 V607.6 H1196 Z" stroke-width="2" fill="none"/>
<path d="M1196,650.5 H1270 V654.5 H1274 V690 H1270 V694 H1196 V690 H1192 V654.5 H1196 Z" stroke-width="2" fill="none"/>
<path d="M1334,501.6 H1292 V505.6 H1288 V538 H1292 V542 H1334" stroke-width="2" fill="none"/>
<path d="M1334,547.8 H1292 V551.8 H1288 V591.8 H1292 V595.8 H1334" stroke-width="2" fill="none"/>
<path d="M1334,603.6 H1292 V607.6 H1288 V640.7 H1292 V644.7 H1334" stroke-width="2" fill="none"/>
<path d="M1334,650.5 H1292 V654.5 H1288 V690 H1292 V694 H1334" stroke-width="2" fill="none"/>
<path d="M957,501.6 H981 V505.6 H985 V538 H981 V542 H957" stroke-width="2" fill="none"/>
<path d="M957,547.8 H981 V551.8 H985 V591.8 H981 V595.8 H957" stroke-width="2" fill="none"/>
<path d="M957,603.6 H981 V607.6 H985 V640.7 H981 V644.7 H957" stroke-width="2" fill="none"/>
<path d="M957,650.5 H981 V654.5 H985 V690 H981 V694 H957" stroke-width="2" fill="none"/>
<line x1="991.0" y1="503.0" x2="991.0" y2="694.0" stroke-width="2.3" stroke-dasharray="8 5" stroke-linecap="butt"/>
<line x1="1088.2" y1="503.0" x2="1088.2" y2="694.0" stroke-width="2.3" stroke-dasharray="8 5" stroke-linecap="butt"/>
<line x1="1186.1" y1="503.0" x2="1186.1" y2="694.0" stroke-width="2.3" stroke-dasharray="8 5" stroke-linecap="butt"/>
<line x1="1280.0" y1="503.0" x2="1280.0" y2="694.0" stroke-width="2.3" stroke-dasharray="8 5" stroke-linecap="butt"/>
<line x1="991.0" y1="478.0" x2="991.0" y2="490.0" stroke-width="2.16" stroke-linecap="butt"/>
<line x1="991.0" y1="703.0" x2="990.0" y2="727.0" stroke-width="2.3" stroke-linecap="butt"/>
<line x1="1088.2" y1="478.0" x2="1088.2" y2="490.0" stroke-width="2.16" stroke-linecap="butt"/>
<line x1="1088.2" y1="703.0" x2="1087.2" y2="727.0" stroke-width="2.3" stroke-linecap="butt"/>
<line x1="1186.1" y1="478.0" x2="1186.1" y2="490.0" stroke-width="2.16" stroke-linecap="butt"/>
<line x1="1186.1" y1="703.0" x2="1185.1" y2="727.0" stroke-width="2.3" stroke-linecap="butt"/>
<line x1="1280.0" y1="478.0" x2="1280.0" y2="490.0" stroke-width="2.16" stroke-linecap="butt"/>
<line x1="1280.0" y1="703.0" x2="1279.0" y2="727.0" stroke-width="2.3" stroke-linecap="butt"/>
<circle cx="988.9" cy="743.0" r="16" stroke-width="2.8" fill="none"/>
<circle cx="1085.8" cy="743.0" r="16" stroke-width="2.8" fill="none"/>
<circle cx="1182.7" cy="744.7" r="16" stroke-width="2.8" fill="none"/>
<circle cx="1279.2" cy="744.7" r="16" stroke-width="2.8" fill="none"/>
<rect x="985.0" y="490.0" width="12" height="12" fill="#111" stroke="none"/>
<rect x="985.5" y="594.0" width="11" height="11" fill="#111" stroke="none"/>
<rect x="984.0" y="691.0" width="12" height="12" fill="#111" stroke="none"/>
<rect x="1082.2" y="490.7" width="12" height="12" fill="#111" stroke="none"/>
<rect x="1082.7" y="594.8" width="11" height="11" fill="#111" stroke="none"/>
<rect x="1081.2" y="691.5" width="12" height="12" fill="#111" stroke="none"/>
<rect x="1180.1" y="491.4" width="12" height="12" fill="#111" stroke="none"/>
<rect x="1180.6" y="595.6" width="11" height="11" fill="#111" stroke="none"/>
<rect x="1179.1" y="692.0" width="12" height="12" fill="#111" stroke="none"/>
<rect x="1274.0" y="492.1" width="12" height="12" fill="#111" stroke="none"/>
<rect x="1274.5" y="596.4" width="11" height="11" fill="#111" stroke="none"/>
<rect x="1273.0" y="692.5" width="12" height="12" fill="#111" stroke="none"/>
<line x1="1142.3" y1="522.0" x2="1142.3" y2="578.6" stroke-width="1.8" stroke-linecap="butt"/>
<path d="M1142.3,510 L1137.8,524 L1146.8,524 Z" fill="#111" stroke="none"/>
<path d="M1142.3,590.6 L1137.8,576.6 L1146.8,576.6 Z" fill="#111" stroke="none"/>
<line x1="1123.0" y1="559.8" x2="1158.0" y2="559.8" stroke-width="1.8" stroke-linecap="butt"/>
<path d="M1113,559.8 L1125,555.3 L1125,564.3 Z" fill="#111" stroke="none"/>
<path d="M1168,559.8 L1156,555.3 L1156,564.3 Z" fill="#111" stroke="none"/>
<line x1="1227.8" y1="623.0" x2="1227.8" y2="664.2" stroke-width="1.8" stroke-linecap="butt"/>
<path d="M1227.8,611 L1223.3,625 L1232.3,625 Z" fill="#111" stroke="none"/>
<path d="M1227.8,676.2 L1223.3,662.2 L1232.3,662.2 Z" fill="#111" stroke="none"/>
<line x1="1210.5" y1="635.0" x2="1253.8" y2="635.0" stroke-width="1.8" stroke-linecap="butt"/>
<path d="M1200.5,635 L1212.5,630.5 L1212.5,639.5 Z" fill="#111" stroke="none"/>
<path d="M1263.8,635 L1251.8,630.5 L1251.8,639.5 Z" fill="#111" stroke="none"/>
<text class="lb" font-size="21.74" transform="translate(1214 565) scale(0.990 1)" x="-0.43" y="15.00">НП</text>
<text class="lb" font-size="17.39" transform="translate(1275.8 440) scale(1.159 1)" x="-0.35" y="12.00">ПА</text>
<polyline points="1190.0,520.5 1266.0,458.0 1248.4,494.8" stroke-width="1.8" fill="none"/>
<rect x="249.2" y="813.3" width="78.5" height="16.0" fill="#111" stroke="none" rx="1.5"/>
<path d="M254.2,826.3L258.7,816.3M262.7,826.3L267.2,816.3M271.2,826.3L275.7,816.3M279.7,826.3L284.2,816.3M288.2,826.3L292.7,816.3M296.7,826.3L301.2,816.3M305.2,826.3L309.7,816.3M313.7,826.3L318.2,816.3" stroke="#fff" stroke-width="2.8" fill="none"/>
<line x1="354.0" y1="821.4" x2="368.7" y2="821.4" stroke-width="2.86" stroke-linecap="butt"/>
<text class="lb" font-size="26.38" transform="translate(383.5 810) scale(0.924 1)" x="-0.53" y="18.20">1</text>
<rect x="253.2" y="858" width="73.3" height="11.4" fill="#fff" stroke-width="3"/>
<line x1="355.0" y1="864.7" x2="367.6" y2="864.7" stroke-width="2.86" stroke-linecap="butt"/>
<text class="lb" font-size="26.71" transform="translate(374 851.5) scale(1.070 1)" x="0.27" y="18.70">2</text>
<text x="51.7" y="922" font-size="34" textLength="863" lengthAdjust="spacingAndGlyphs" class="cs" transform="rotate(0.551 51.7 922)"><tspan style="stroke-width:0.6px">Рис. 13.6. Конструктивные системы каркасных зданий:</tspan></text>
<text x="50.6" y="957.6" font-size="32.5" textLength="1361" lengthAdjust="spacingAndGlyphs" class="cs" transform="rotate(0.627 50.6 957.6)"><tspan class="it">а</tspan> <tspan class="bd">— с полным каркасом;</tspan> <tspan class="it">б</tspan> <tspan class="bd">— с неполным каркасом;</tspan> <tspan class="it">в</tspan> <tspan class="bd">— с безригельным каркасом;</tspan> К — <tspan class="bd">колонна;</tspan> Р —</text>
<text x="48.5" y="991.5" font-size="32.5" textLength="1362" lengthAdjust="spacingAndGlyphs" class="cs" transform="rotate(0.568 48.5 991.5)"><tspan class="bd">ригель;</tspan>  НР <tspan class="bd">— настил</tspan>-распорка;  НП <tspan class="bd">— настил  перекрытия;</tspan>  ДЖ <tspan class="bd">— диафрагма  жесткости;</tspan>  ПА —</text>
<text x="47.8" y="1026.2" font-size="32.5" textLength="1268" lengthAdjust="spacingAndGlyphs" class="cs" transform="rotate(0.456 47.8 1026.2)"><tspan class="bd">предварительно напряженная арматура;</tspan>  <tspan class="it">1</tspan> <tspan class="bd">— несущая стена;</tspan>  <tspan class="it">2</tspan> <tspan class="bd">— само- или ненесущая стена</tspan></text>
<rect x="113" y="1085" width="31" height="3" fill="#111" stroke="none"/>
</svg>
</body></html>
